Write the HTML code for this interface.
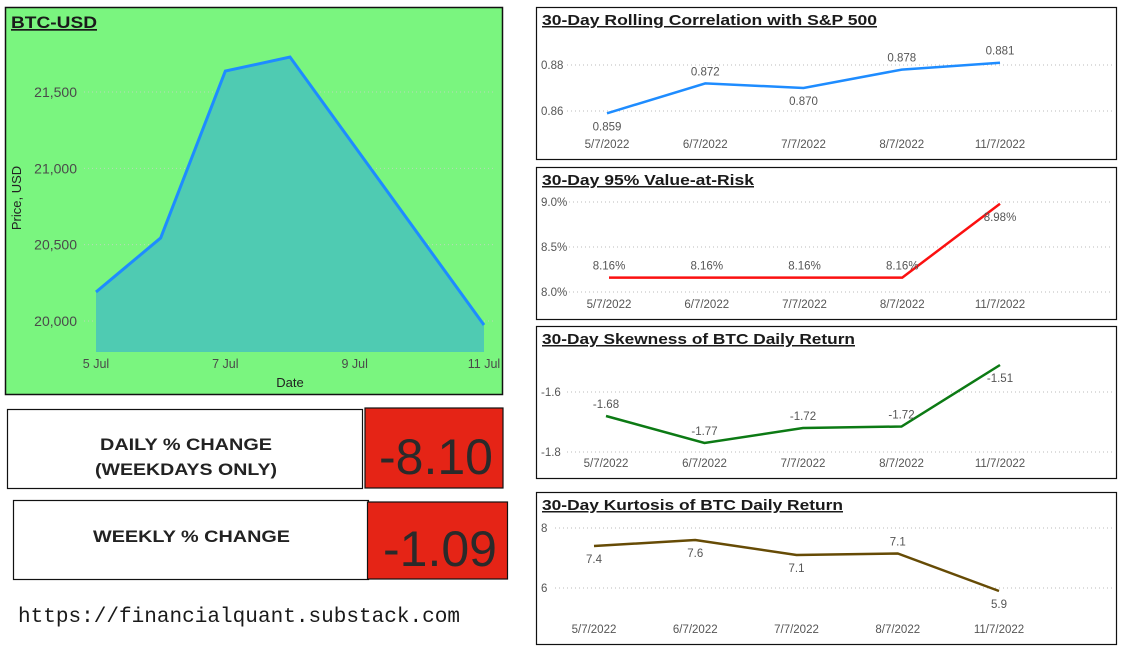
<!DOCTYPE html>
<html><head><meta charset="utf-8"><style>
body{margin:0;background:#fff;width:1130px;height:659px;overflow:hidden;font-family:"Liberation Sans",sans-serif}
svg text{font-family:"Liberation Sans",sans-serif}
</style></head><body>
<svg id="root" width="1130" height="659" xmlns="http://www.w3.org/2000/svg">
  <rect x="5.5" y="7.5" width="497" height="387" fill="#7af57f" stroke="#111" stroke-width="1.5"/>
  <text x="11" y="28" font-size="17" font-weight="bold" fill="#1a1a1a" text-decoration="underline" textLength="86" lengthAdjust="spacingAndGlyphs">BTC-USD</text>
  <g id="main"></g>

  <rect x="7.5" y="409.5" width="355" height="79" fill="#fff" stroke="#111" stroke-width="1.2"/>
  <text x="100" y="450" font-size="17" font-weight="bold" fill="#222" textLength="172" lengthAdjust="spacingAndGlyphs">DAILY % CHANGE</text>
  <text x="95" y="475" font-size="17" font-weight="bold" fill="#222" textLength="182" lengthAdjust="spacingAndGlyphs">(WEEKDAYS ONLY)</text>
  <rect x="365" y="408" width="138" height="80" fill="#e52416" stroke="#111" stroke-width="1.2"/>
  <text x="379" y="474" font-size="50" fill="#2a2a2a" textLength="114" lengthAdjust="spacingAndGlyphs">-8.10</text>

  <rect x="13.5" y="500.5" width="355" height="79" fill="#fff" stroke="#111" stroke-width="1.2"/>
  <text x="93" y="542" font-size="17" font-weight="bold" fill="#222" textLength="197" lengthAdjust="spacingAndGlyphs">WEEKLY % CHANGE</text>
  <rect x="367.5" y="502" width="140" height="77" fill="#e52416" stroke="#111" stroke-width="1.2"/>
  <text x="383" y="566" font-size="50" fill="#2a2a2a" textLength="114" lengthAdjust="spacingAndGlyphs">-1.09</text>

  <text x="18" y="622" font-size="21" fill="#1a1a1a" style="font-family:'Liberation Mono',monospace" textLength="442" lengthAdjust="spacingAndGlyphs">https://financialquant.substack.com</text>

  <g id="side"></g>
</svg>
<script>
// ---- BTC price chart data ----
const btcDays = [5, 6, 7, 8, 11];
const btcPrices = [20190, 20544, 21637, 21729, 19974];
const btcTicks = [20000, 20500, 21000, 21500];
const btcXTicks = [5, 7, 9, 11];

// ---- Side charts data ----
const sideDates = ["5/7/2022", "6/7/2022", "7/7/2022", "8/7/2022", "11/7/2022"];
const corrValues = [0.859, 0.872, 0.870, 0.878, 0.881];
const corrTicks = [0.86, 0.88];
const varValues = [8.16, 8.16, 8.16, 8.16, 8.98];
const varTicks = [8.0, 8.5, 9.0];
const skewValues = [-1.68, -1.77, -1.72, -1.715, -1.51];
const skewLabels = ["-1.68", "-1.77", "-1.72", "-1.72", "-1.51"];
const skewTicks = [-1.8, -1.6];
const kurtValues = [7.4, 7.6, 7.1, 7.15, 5.9];
const kurtLabels = ["7.4", "7.6", "7.1", "7.1", "5.9"];
const kurtTicks = [6, 8];

const NS = "http://www.w3.org/2000/svg";
function mk(tag, attrs, parent, txt){
  const e = document.createElementNS(NS, tag);
  for (const k in attrs) e.setAttribute(k, attrs[k]);
  if (txt !== undefined) e.textContent = txt;
  parent.appendChild(e);
  return e;
}

// Main chart
(function(){
  const g = document.getElementById('main');
  const x = d => 96 + (d - 5) * (484 - 96) / 6;
  const y = v => 321 - (v - 20000) * (229 / 1500);
  const base = 352;
  btcTicks.forEach(t => {
    const l = mk('line', {x1: 84, x2: 495, y1: y(t), y2: y(t), stroke: '#b9d9b9', 'stroke-dasharray': '1 3'}, g);
    
    
    const tx = mk('text', {x: 77, y: y(t) + 5, 'font-size': 14, fill: '#4a4a4a', 'text-anchor': 'end'}, g, t.toLocaleString('en-US'));
    
    
  });
  btcXTicks.forEach(d => {
    const tx = mk('text', {x: x(d), y: 368, 'font-size': 12.5, fill: '#4a4a4a', 'text-anchor': 'middle'}, g, d + ' Jul');
    
    
  });
  const pts = btcDays.map((d, i) => x(d) + ',' + y(btcPrices[i]));
  const area = mk('polygon', {points: x(btcDays[0]) + ',' + base + ' ' + pts.join(' ') + ' ' + x(btcDays[btcDays.length-1]) + ',' + base, fill: '#4fcbb2'}, g);
  
  
  const line = mk('polyline', {points: pts.join(' '), fill: 'none', stroke: '#1e8cff', 'stroke-width': 3}, g);
  
  
  const xt = mk('text', {x: 290, y: 387, 'font-size': 13, fill: '#222', 'text-anchor': 'middle'}, g, 'Date');
  
  
  const yt = mk('text', {x: 0, y: 0, 'font-size': 13, fill: '#222', 'text-anchor': 'middle', transform: 'translate(21,198) rotate(-90)'}, g, 'Price, USD');
  
  
})();

function sideChart(cfg){
  const g = mk('g', {}, document.getElementById('side'));
  
  
  const box = mk('rect', {x: 536.5, y: cfg.top + 0.5, width: 580, height: 152, fill: '#fff', stroke: '#111', 'stroke-width': 1.2}, g);
  
  
  const t = mk('text', {x: 542, y: cfg.top + 18, 'font-size': 15, 'font-weight': 'bold', fill: '#1a1a1a', 'text-decoration': 'underline', textLength: cfg.tlen, lengthAdjust: 'spacingAndGlyphs'}, g, cfg.title);
  
  
  const [t0, t1] = cfg.ref; const [p0, p1] = cfg.refY;
  const y = v => p0 + (v - t0) * (p1 - p0) / (t1 - t0);
  const x = i => cfg.x0 + i * (cfg.x1 - cfg.x0) / 4;
  cfg.ticks.forEach(tk => {
    const l = mk('line', {x1: cfg.gx, x2: 1112, y1: y(tk), y2: y(tk), stroke: '#bbb', 'stroke-dasharray': '1 3'}, g);
    
    
    const tx = mk('text', {x: 541, y: y(tk) + 4, 'font-size': 11.5, fill: '#555'}, g, cfg.fmt(tk));
    
    
  });
  sideDates.forEach((d, i) => {
    const tx = mk('text', {x: x(i), y: cfg.labY, 'font-size': 11.5, fill: '#555', 'text-anchor': 'middle'}, g, d);
    
    
  });
  const pts = cfg.values.map((v, i) => x(i) + ',' + y(v)).join(' ');
  const line = mk('polyline', {points: pts, fill: 'none', stroke: cfg.color, 'stroke-width': 2.5}, g);
  
  
  cfg.values.forEach((v, i) => {
    const dy = cfg.below[i] ? 17 : -8;
    const tx = mk('text', {x: x(i), y: y(v) + dy, 'font-size': 11.5, fill: '#555', 'text-anchor': 'middle'}, g, cfg.labels[i]);
    
    
  });
}

sideChart({name: 'correlation', title: '30-Day Rolling Correlation with S&P 500', tlen: 335, top: 7, values: corrValues,
  labels: corrValues.map(v => v.toFixed(3)), ticks: corrTicks, ref: [0.86, 0.88], refY: [111, 65],
  fmt: v => v.toFixed(2), x0: 607, x1: 1000, gx: 567, labY: 148, color: '#1e8cff', below: [1,0,1,0,0]});
sideChart({name: 'value-at-risk', title: '30-Day 95% Value-at-Risk', tlen: 212, top: 167, values: varValues,
  labels: varValues.map(v => v.toFixed(2) + '%'), ticks: varTicks, ref: [8.0, 9.0], refY: [292, 202],
  fmt: v => v.toFixed(1) + '%', x0: 609, x1: 1000, gx: 569, labY: 308, color: '#fb1010', below: [0,0,0,0,1]});
sideChart({name: 'skewness', title: '30-Day Skewness of BTC Daily Return', tlen: 313, top: 326, values: skewValues,
  labels: skewLabels, ticks: skewTicks, ref: [-1.6, -1.8], refY: [392, 452],
  fmt: v => v.toFixed(1), x0: 606, x1: 1000, gx: 567, labY: 467, color: '#0c7a14', below: [0,0,0,0,1]});
sideChart({name: 'kurtosis', title: '30-Day Kurtosis of BTC Daily Return', tlen: 301, top: 492, values: kurtValues,
  labels: kurtLabels, ticks: kurtTicks, ref: [8, 6], refY: [528, 588],
  fmt: v => String(v), x0: 594, x1: 999, gx: 555, labY: 633, color: '#664b05', below: [1,1,1,0,1]});
</script>
</body></html>
